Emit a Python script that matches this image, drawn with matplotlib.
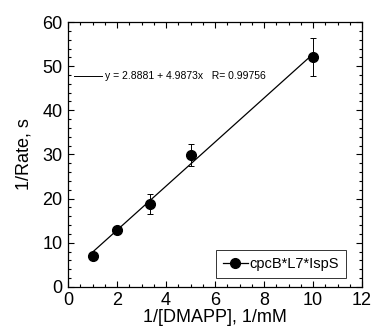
import numpy as np
import matplotlib.pyplot as plt
from matplotlib.ticker import MultipleLocator
from matplotlib.lines import Line2D

plt.rcParams['font.family'] = ['Liberation Sans', 'DejaVu Sans']

# data
inv_dmapp = [1.0, 2.0, 3.33, 5.0, 10.0]
inv_rate = [7.0, 12.9, 18.8, 29.8, 52.0]
rate_err = [0.4, 0.5, 2.3, 2.5, 4.3]
fit_a, fit_b, fit_r = 2.8881, 4.9873, 0.99756

fig = plt.figure(figsize=(3.74, 3.29), dpi=100)
ax = fig.add_axes([0.182, 0.128, 0.786, 0.805])

# linear fit line
xf = np.array([min(inv_dmapp), max(inv_dmapp)])
ax.plot(xf, fit_a + fit_b * xf, color='black', lw=0.9)
ax.errorbar(inv_dmapp, inv_rate, yerr=rate_err, fmt='o', color='black',
            ms=7, elinewidth=0.7, capsize=2, capthick=0.7)

ax.set_xlim(0, 12)
ax.set_ylim(0, 60)
ax.xaxis.set_major_locator(MultipleLocator(2))
ax.xaxis.set_minor_locator(MultipleLocator(0.5))
ax.yaxis.set_major_locator(MultipleLocator(10))
ax.yaxis.set_minor_locator(MultipleLocator(2))
ax.tick_params(which='both', direction='in', top=True, right=True, width=0.8)
ax.tick_params(which='major', length=4, labelsize=13, pad=4)
ax.tick_params(which='minor', length=2)
for s in ax.spines.values():
    s.set_linewidth(0.9)

ax.set_xlabel('1/[DMAPP], 1/mM', fontsize=13, labelpad=0)
ax.set_ylabel('1/Rate, s', fontsize=13, labelpad=7)

# fit annotation
ax.plot([0.24, 1.39], [47.8, 47.8], color='black', lw=0.7)
ax.text(1.51, 47.8, 'y = %.4f + %.4fx   R= %.5f' % (fit_a, fit_b, fit_r),
        fontsize=7.5, va='center', ha='left')

handle = Line2D([], [], color='black', lw=0.9, marker='o', ms=7)
leg = ax.legend([handle], ['cpcB*L7*IspS'], loc='lower right', fontsize=10.5,
                frameon=True, fancybox=False, edgecolor='black',
                handlelength=1.7, borderpad=0.45, handletextpad=0.15,
                borderaxespad=0, bbox_to_anchor=(0.945, 0.035))
leg.get_frame().set_linewidth(0.7)

fig.savefig('out.png', dpi=100)
